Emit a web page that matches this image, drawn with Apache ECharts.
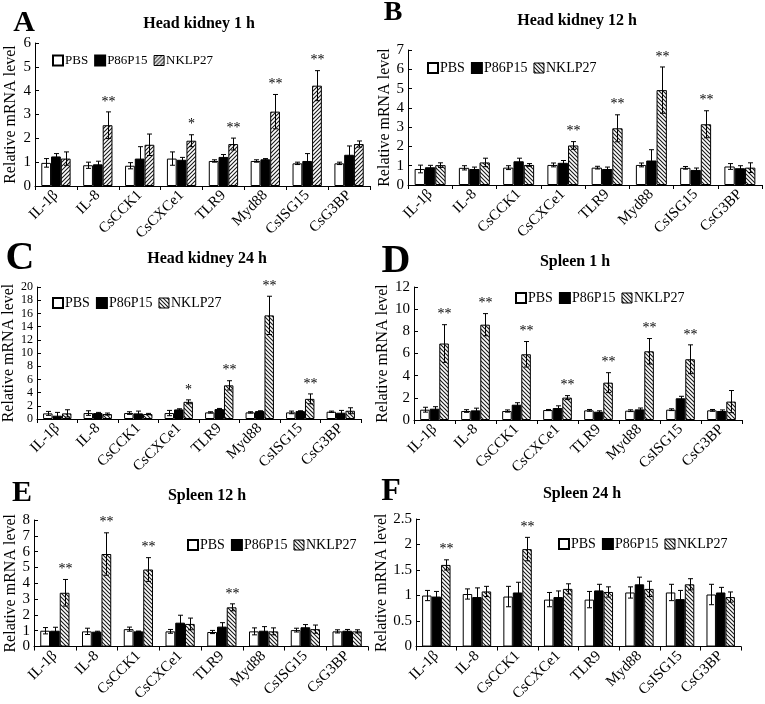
<!DOCTYPE html>
<html><head><meta charset="utf-8">
<script src="https://cdn.jsdelivr.net/npm/echarts@6/dist/echarts.min.js"></script>
<style>html,body{margin:0;padding:0;background:#fff}#c{width:765px;height:704px}</style>
</head><body><div id="c"></div>
<script>
// ---------- data ----------
const categories = ['IL-1β','IL-8','CsCCK1','CsCXCe1','TLR9','Myd88','CsISG15','CsG3BP'];
const seriesNames = ['PBS','P86P15','NKLP27'];
const panelLetters = ['A','B','C','D','E','F'];
const panelTitles = ['Head kidney 1 h','Head kidney 12 h','Head kidney 24 h','Spleen 1 h','Spleen 12 h','Spleen 24 h'];
const yMaxes = [6, 7, 20, 12, 8, 2.5];
const ySteps = [1, 1, 2, 2, 1, 0.5];

// A: Head kidney 1 h
const hk1_pbs     = [0.97,0.87,0.85,1.15,1.05,1.05,0.95,0.95];
const hk1_pbsErr  = [0.18,0.13,0.13,0.28,0.05,0.05,0.05,0.05];
const hk1_p86     = [1.24,0.91,1.15,1.10,1.22,1.12,1.05,1.31];
const hk1_p86Err  = [0.12,0.13,0.50,0.10,0.10,0.03,0.31,0.37];
const hk1_nk      = [1.15,2.55,1.73,1.90,1.76,3.12,4.21,1.76];
const hk1_nkErr   = [0.28,0.56,0.45,0.25,0.25,0.72,0.63,0.13];
const hk1_stars   = ['','**','','*','**','**','**',''];

// B: Head kidney 12 h
const hk12_pbs    = [0.83,0.89,0.90,1.04,0.90,1.04,0.89,0.96];
const hk12_pbsErr = [0.20,0.11,0.10,0.10,0.07,0.10,0.07,0.15];
const hk12_p86    = [0.92,0.83,1.23,1.15,0.83,1.27,0.78,0.87];
const hk12_p86Err = [0.10,0.10,0.16,0.12,0.10,0.56,0.10,0.13];
const hk12_nk     = [1.03,1.17,1.04,2.05,2.94,4.92,3.15,0.90];
const hk12_nkErr  = [0.12,0.22,0.07,0.20,0.70,1.20,0.70,0.25];
const hk12_stars  = ['','','','**','**','**','**',''];

// C: Head kidney 24 h
const hk24_pbs    = [0.85,0.90,0.90,0.90,1.00,1.00,1.00,1.10];
const hk24_pbsErr = [0.30,0.35,0.20,0.40,0.10,0.10,0.20,0.10];
const hk24_p86    = [0.50,0.90,0.85,1.45,1.50,1.20,1.20,0.95];
const hk24_p86Err = [0.50,0.10,0.35,0.10,0.10,0.05,0.05,0.35];
const hk24_nk     = [0.85,0.75,0.75,2.60,5.10,15.70,3.05,1.25];
const hk24_nkErr  = [0.55,0.15,0.10,0.30,0.70,2.90,0.75,0.45];
const hk24_stars  = ['','','','*','**','**','**',''];

// D: Spleen 1 h
const sp1_pbs     = [0.93,0.81,0.81,0.90,0.87,0.84,0.93,0.87];
const sp1_pbsErr  = [0.22,0.12,0.10,0.05,0.08,0.08,0.08,0.08];
const sp1_p86     = [1.02,0.87,1.38,1.08,0.75,0.96,1.96,0.81];
const sp1_p86Err  = [0.18,0.20,0.18,0.20,0.08,0.12,0.18,0.10];
const sp1_nk      = [6.90,8.60,5.93,2.02,3.37,6.20,5.48,1.66];
const sp1_nkErr   = [1.70,1.00,1.15,0.18,0.90,1.15,1.30,1.00];
const sp1_stars   = ['**','**','**','**','**','**','**',''];

// E: Spleen 12 h
const sp12_pbs    = [1.00,0.96,1.10,0.96,0.92,0.96,1.04,0.96];
const sp12_pbsErr = [0.20,0.20,0.13,0.12,0.10,0.22,0.12,0.10];
const sp12_p86    = [1.00,0.94,0.96,1.51,1.26,1.00,1.22,1.00];
const sp12_p86Err = [0.22,0.03,0.02,0.47,0.25,0.26,0.17,0.08];
const sp12_nk     = [3.40,5.85,4.87,1.43,2.48,0.96,1.10,0.96];
const sp12_nkErr  = [0.84,1.34,0.75,0.37,0.22,0.22,0.26,0.10];
const sp12_stars  = ['**','**','**','','**','','',''];

// F: Spleen 24 h
const sp24_pbs    = [1.00,1.03,0.98,0.92,0.92,1.06,1.06,1.02];
const sp24_pbsErr = [0.10,0.10,0.20,0.14,0.16,0.11,0.16,0.20];
const sp24_p86    = [0.98,0.97,1.06,0.97,1.10,1.22,0.93,1.06];
const sp24_p86Err = [0.10,0.18,0.20,0.12,0.12,0.14,0.17,0.10];
const sp24_nk     = [1.60,1.08,1.91,1.13,1.07,1.13,1.22,0.97];
const sp24_nkErr  = [0.10,0.10,0.23,0.10,0.10,0.15,0.11,0.10];
const sp24_stars  = ['**','','**','','','','',''];

const panels = [
  {means:[hk1_pbs,hk1_p86,hk1_nk],   errs:[hk1_pbsErr,hk1_p86Err,hk1_nkErr],   stars:hk1_stars},
  {means:[hk12_pbs,hk12_p86,hk12_nk],errs:[hk12_pbsErr,hk12_p86Err,hk12_nkErr],stars:hk12_stars},
  {means:[hk24_pbs,hk24_p86,hk24_nk],errs:[hk24_pbsErr,hk24_p86Err,hk24_nkErr],stars:hk24_stars},
  {means:[sp1_pbs,sp1_p86,sp1_nk],   errs:[sp1_pbsErr,sp1_p86Err,sp1_nkErr],   stars:sp1_stars},
  {means:[sp12_pbs,sp12_p86,sp12_nk],errs:[sp12_pbsErr,sp12_p86Err,sp12_nkErr],stars:sp12_stars},
  {means:[sp24_pbs,sp24_p86,sp24_nk],errs:[sp24_pbsErr,sp24_p86Err,sp24_nkErr],stars:sp24_stars}
];

// ---------- layout ----------
const grids = [
  {left:35,  top:43,  width:335, height:143},
  {left:408, top:50,  width:354, height:135},
  {left:37,  top:287, width:324, height:132},
  {left:414, top:287, width:328, height:133},
  {left:34,  top:520, width:334, height:131},
  {left:416, top:519, width:325, height:133}
];
const nameGaps = [16, 10, 18, 16, 15, 25];
const yLabelSizes = [15, 15, 12, 15, 15, 15];
const legendPos = [
  {left:52, top:54}, {left:427, top:61}, {left:52, top:296},
  {left:515, top:291}, {left:187, top:538}, {left:558, top:537}
];
const titlePos = [[199,24],[577,21],[207,259],[575,262],[207,496],[582,494]];
const letterPos = [[24,23,30],[393,13,28],[20,259,40],[396,262,40],[22,493,30],[391,492,32]];
const hatchDir = [1,-1,-1,-1,-1,-1];
const FONT = '"Liberation Serif","Times New Roman",serif';

function makeHatch(dir){
  const c = document.createElement('canvas');
  c.width = 4; c.height = 4;
  const g = c.getContext('2d');
  g.fillStyle = '#fff'; g.fillRect(0,0,4,4);
  g.strokeStyle = '#1a1a1a'; g.lineWidth = 1.1;
  g.beginPath();
  if (dir > 0) {
    g.moveTo(-1,5); g.lineTo(5,-1);
    g.moveTo(-1,1); g.lineTo(1,-1);
    g.moveTo(3,5); g.lineTo(5,3);
  } else {
    g.moveTo(-1,-1); g.lineTo(5,5);
    g.moveTo(3,-1); g.lineTo(5,1);
    g.moveTo(-1,3); g.lineTo(1,5);
  }
  g.stroke();
  return c;
}
const hatchUp = makeHatch(1), hatchDown = makeHatch(-1);

function makeErrRender(p){
  return function(params, api){
    const cat = api.value(0), mean = api.value(1), err = api.value(2), k = api.value(3);
    const band = api.size([1,0])[0];
    const bw = band*0.7/3;
    const c = api.coord([cat, mean]);
    const x = Math.round(c[0] + (k-1)*bw) + 0.5;
    const yT = api.coord([cat, mean+err])[1];
    const yB = api.coord([cat, mean-err])[1];
    const cap = 2.5;
    const st = {stroke:'#000', lineWidth:1};
    const ch = [
      {type:'line', shape:{x1:x,y1:yT,x2:x,y2:yB}, style:st},
      {type:'line', shape:{x1:x-cap,y1:yT,x2:x+cap,y2:yT}, style:st},
      {type:'line', shape:{x1:x-cap,y1:yB,x2:x+cap,y2:yB}, style:st}
    ];
    const s = panels[p].stars[cat];
    if (k === 2 && s) {
      ch.push({type:'text', style:{text:s, x:x, y:yT-3, align:'center', verticalAlign:'bottom',
        fontSize:14, fontFamily:FONT, fill:'#000'}});
    }
    return {type:'group', children:ch};
  };
}

const option = {
  animation:false,
  backgroundColor:'#fff',
  grid: grids.map(g => Object.assign({containLabel:false}, g)),
  xAxis: grids.map((g,i) => ({
    type:'category', gridIndex:i, data:categories,
    axisLine:{lineStyle:{color:'#000', width:1}},
    axisTick:{show:true, length:4, alignWithLabel:false, lineStyle:{color:'#000'}},
    axisLabel:{rotate:45, margin:7, interval:0, color:'#000', fontSize:15, fontFamily:FONT},
    splitLine:{show:false}
  })),
  yAxis: grids.map((g,i) => ({
    type:'value', gridIndex:i, min:0, max:yMaxes[i], interval:ySteps[i],
    name:'Relative mRNA level', nameLocation:'middle', nameGap:nameGaps[i],
    nameTextStyle:{color:'#000', fontSize:16, fontFamily:FONT},
    axisLine:{show:true, lineStyle:{color:'#000', width:1}},
    axisTick:{show:true, inside:true, length:4, lineStyle:{color:'#000'}},
    axisLabel:{color:'#000', fontSize:yLabelSizes[i], fontFamily:FONT, margin:4, lineHeight:yLabelSizes[i],
      showMinLabel:true, showMaxLabel:true, hideOverlap:false},
    splitLine:{show:false}
  })),
  legend: grids.map((g,i) => ({
    left:legendPos[i].left, top:legendPos[i].top, orient:'horizontal',
    itemWidth:10, itemHeight:10, itemGap:6, icon:'rect', padding:0,
    textStyle:{color:'#000', fontSize:i===0?13:14, fontFamily:FONT, padding:[0,0,0,-3]},
    data:[
      {name:'PBS'}, {name:'P86P15'},
      {name:'NKLP27', itemStyle:{color:{image: hatchDir[i]>0?hatchUp:hatchDown, repeat:'repeat'}, borderColor:'#000', borderWidth:1}}
    ]
  })),
  graphic: [].concat(
    panelTitles.map((t,i) => ({type:'text', x:titlePos[i][0], y:titlePos[i][1],
      style:{text:t, align:'center', verticalAlign:'middle', fontSize:16, fontWeight:'bold', fontFamily:FONT, fill:'#000'}})),
    panelLetters.map((t,i) => ({type:'text', x:letterPos[i][0], y:letterPos[i][1],
      style:{text:t, align:'center', verticalAlign:'middle', fontSize:letterPos[i][2], fontWeight:'bold', fontFamily:FONT, fill:'#000'}}))
  ),
  series: []
};

panels.forEach((pn, p) => {
  const fills = ['#fff', '#000', {image: hatchDir[p]>0?hatchUp:hatchDown, repeat:'repeat'}];
  seriesNames.forEach((nm, k) => {
    option.series.push({
      type:'bar', name:nm, xAxisIndex:p, yAxisIndex:p,
      data: pn.means[k], barGap:'0%', barCategoryGap:'30%',
      itemStyle:{color:fills[k], borderColor:'#000', borderWidth:1},
      emphasis:{disabled:true}
    });
  });
  const errData = [];
  for (let k = 0; k < 3; k++) {
    for (let c = 0; c < categories.length; c++) {
      errData.push([c, pn.means[k][c], pn.errs[k][c], k]);
    }
  }
  option.series.push({
    type:'custom', name:'err'+p, xAxisIndex:p, yAxisIndex:p,
    renderItem: makeErrRender(p), data: errData, z:5, silent:true,
    encode:{x:0, y:[1,2]}
  });
});

const chart = echarts.init(document.getElementById('c'));
chart.setOption(option);
</script>
</body></html>
